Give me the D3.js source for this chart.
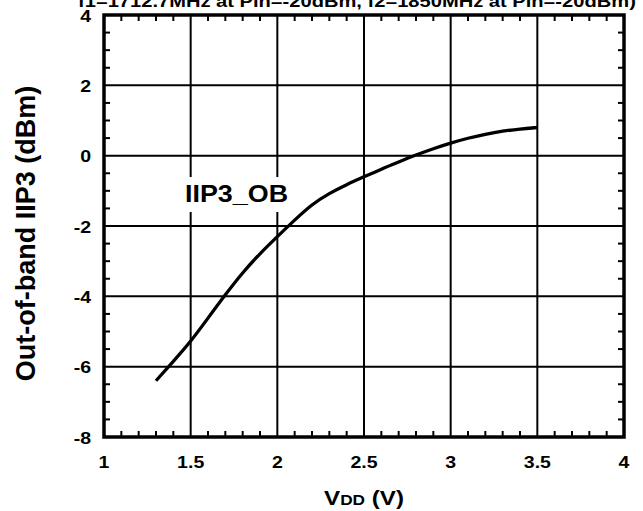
<!DOCTYPE html>
<html>
<head>
<meta charset="utf-8">
<script src="https://cdn.jsdelivr.net/npm/d3@7"></script>
<style>
  body { margin: 0; background: #fff; }
  svg { display: block; }
  text { font-family: "Liberation Sans", Arial, sans-serif; font-weight: bold; fill: #000; }
</style>
</head>
<body>
<script>
// IIP3 vs supply voltage
const vdd = [1.3, 1.4, 1.5, 1.6, 1.7, 1.8, 1.9, 2.0, 2.1, 2.2, 2.3, 2.4, 2.5, 2.6, 2.7, 2.8, 2.9, 3.0, 3.1, 3.2, 3.3, 3.4, 3.5];
const iip3 = [-6.4, -5.85, -5.29, -4.62, -3.95, -3.32, -2.78, -2.3, -1.83, -1.38, -1.07, -0.82, -0.6, -0.38, -0.18, 0.02, 0.2, 0.36, 0.5, 0.61, 0.7, 0.76, 0.8];

const xTicks = [1, 1.5, 2, 2.5, 3, 3.5, 4];
const yTicks = [-8, -6, -4, -2, 0, 2, 4];
const titleText = "f1=1712.7MHz at Pin=-20dBm, f2=1850MHz at Pin=-20dBm)";
const seriesLabel = "IIP3_OB";

const width = 643, height = 511;
const plot = { left: 104, right: 624, top: 15, bottom: 437 };

const svg = d3.select("body").append("svg")
    .attr("width", width)
    .attr("height", height);

const x = d3.scaleLinear().domain([1, 4]).range([plot.left, plot.right]);
const y = d3.scaleLinear().domain([-8, 4]).range([plot.bottom, plot.top]);

// gridlines at major ticks
const grid = svg.append("g").attr("stroke", "#000").attr("stroke-width", 2);
grid.selectAll("line.vx")
    .data(xTicks.slice(1, -1))
    .join("line")
    .attr("x1", d => x(d)).attr("x2", d => x(d))
    .attr("y1", plot.top).attr("y2", plot.bottom);
grid.selectAll("line.hy")
    .data(yTicks.slice(1, -1))
    .join("line")
    .attr("x1", plot.left).attr("x2", plot.right)
    .attr("y1", d => y(d)).attr("y2", d => y(d));

// minor ticks, inward on all four sides
const xMinor = d3.range(1, 4.001, 0.1).filter(v => Math.abs(v * 2 - Math.round(v * 2)) > 1e-6);
const yMinor = d3.range(-8, 4.001, 0.5).filter(v => Math.abs(v / 2 - Math.round(v / 2)) > 1e-6);
const tl = 6;
const ticks = svg.append("g").attr("stroke", "#000").attr("stroke-width", 2);
ticks.selectAll("line.xb").data(xMinor).join("line")
    .attr("x1", d => x(d)).attr("x2", d => x(d))
    .attr("y1", plot.bottom).attr("y2", plot.bottom - tl);
ticks.selectAll("line.xt").data(xMinor).join("line")
    .attr("x1", d => x(d)).attr("x2", d => x(d))
    .attr("y1", plot.top).attr("y2", plot.top + tl);
ticks.selectAll("line.yl").data(yMinor).join("line")
    .attr("x1", plot.left).attr("x2", plot.left + tl)
    .attr("y1", d => y(d)).attr("y2", d => y(d));
ticks.selectAll("line.yr").data(yMinor).join("line")
    .attr("x1", plot.right).attr("x2", plot.right - tl)
    .attr("y1", d => y(d)).attr("y2", d => y(d));

// curve
const pts = vdd.map((v, i) => [v, iip3[i]]);
const line = d3.line()
    .x(d => x(d[0]))
    .y(d => y(d[1]))
    .curve(d3.curveBasis);
svg.append("path")
    .datum(pts)
    .attr("fill", "none")
    .attr("stroke", "#000")
    .attr("stroke-width", 3.3)
    .attr("stroke-linecap", "butt")
    .attr("d", line);

// frame
svg.append("rect")
    .attr("x", plot.left).attr("y", plot.top)
    .attr("width", plot.right - plot.left)
    .attr("height", plot.bottom - plot.top)
    .attr("fill", "none")
    .attr("stroke", "#000")
    .attr("stroke-width", 3.5);

// series label with white backing
svg.append("rect")
    .attr("x", 181).attr("y", 177)
    .attr("width", 109).attr("height", 35)
    .attr("fill", "#fff");
svg.append("text")
    .attr("transform", "translate(185,202) scale(1.12,1)")
    .style("font-size", "24px")
    .text(seriesLabel);

// tick labels
svg.append("g").selectAll("text")
    .data(xTicks)
    .join("text")
    .attr("transform", d => `translate(${x(d)},468) scale(1.22,1)`)
    .attr("text-anchor", "middle")
    .style("font-size", "16px")
    .text(d => d);
svg.append("g").selectAll("text")
    .data(yTicks)
    .join("text")
    .attr("transform", d => `translate(91,${y(d) + 6.5}) scale(1.22,1)`)
    .attr("text-anchor", "end")
    .style("font-size", "16px")
    .text(d => d);

// axis titles
const xt = svg.append("text")
    .attr("transform", "translate(364,505) scale(1.15,1)")
    .attr("text-anchor", "middle")
    .style("font-size", "21px");
xt.append("tspan").text("V");
xt.append("tspan").style("font-size", "15px").text("DD");
xt.append("tspan").text(" (V)");

svg.append("text")
    .attr("transform", "translate(35,233.5) rotate(-90)")
    .attr("text-anchor", "middle")
    .style("font-size", "27px")
    .text("Out-of-band IIP3 (dBm)");

// clipped title at the very top
svg.append("text")
    .attr("transform", "translate(78,7) scale(1.22,1)")
    .style("font-size", "16.5px")
    .text(titleText);
</script>
</body>
</html>
